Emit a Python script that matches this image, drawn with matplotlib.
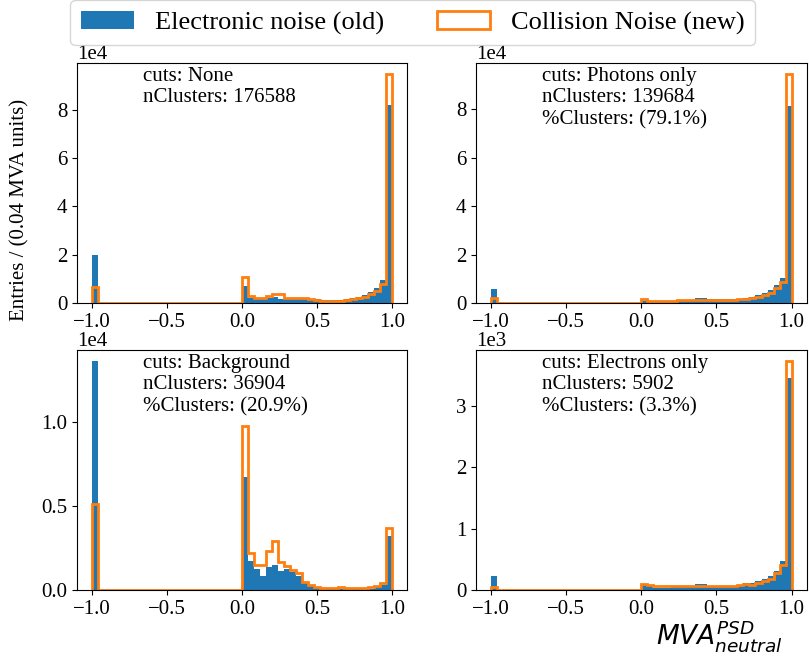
import numpy as np
import matplotlib
matplotlib.use("Agg")
import matplotlib.pyplot as plt
from matplotlib.patches import Patch

BLUE = "#1f77b4"
ORANGE = "#ff7f0e"

plt.rcParams.update(
    {
        "font.family": ["Liberation Serif", "DejaVu Serif"],
        "font.size": 15,
        "mathtext.fontset": "dejavusans",
    }
)

# 50 bins of width 0.04 on [-1, 1]
edges = np.linspace(-1.0, 1.0, 51)
centers = 0.5 * (edges[:-1] + edges[1:])
gap = [0.0] * 24  # bins between -0.96 and 0.0 are empty

# values (entries per bin), bin -1.0 then bins 0.00 ... 0.96
none_old = [19800] + gap + [
    7000, 2100, 1500, 1500, 2100, 2400, 1500, 2000, 2000, 2000, 1900, 1800, 1500,
    1200, 1200, 1100, 1100, 1500, 2000, 2500, 3500, 4600, 6000, 9700, 81800,
]
none_new = [6800] + gap + [
    10600, 2900, 2100, 2100, 2900, 3800, 3800, 2200, 2200, 2200, 2000, 1500, 1100,
    800, 800, 800, 800, 1100, 1500, 2000, 2600, 3800, 5000, 8000, 94600,
]

phot_old = [5900] + gap + [
    1000, 700, 600, 600, 600, 600, 1000, 1000, 1000, 2000, 2000, 1500, 1500,
    1500, 1500, 1500, 1800, 2200, 2600, 3200, 4000, 5400, 7400, 10500, 81500,
]
phot_new = [1900] + gap + [
    1500, 1000, 800, 800, 800, 800, 1200, 1200, 1200, 1400, 1400, 1400, 1400,
    1400, 1400, 1400, 1600, 1700, 2100, 2600, 3200, 4300, 6100, 8500, 94400,
]

bkg_old = [13600] + gap + [
    6750, 1750, 1250, 850, 1350, 1500, 1150, 1250, 1050, 850, 450, 260, 160,
    80, 60, 60, 60, 60, 60, 60, 60, 80, 160, 300, 3200,
]
bkg_new = [5100] + gap + [
    9770, 2180, 1500, 1500, 2300, 2900, 1650, 1450, 1200, 1000, 500, 320, 200,
    120, 100, 120, 150, 100, 120, 120, 120, 160, 260, 400, 3700,
]

ele_old = [230] + gap + [
    80, 60, 30, 30, 30, 70, 70, 70, 70, 90, 90, 70, 70,
    70, 70, 70, 60, 110, 110, 140, 180, 220, 310, 470, 3450,
]
ele_new = [50] + gap + [
    100, 80, 60, 60, 60, 70, 70, 70, 70, 70, 70, 70, 70,
    70, 70, 70, 80, 90, 80, 110, 140, 180, 280, 400, 3720,
]

panels = [
    (none_old, none_new, "cuts: None\nnClusters: 176588"),
    (phot_old, phot_new, "cuts: Photons only\nnClusters: 139684\n%Clusters: (79.1%)"),
    (bkg_old, bkg_new, "cuts: Background\nnClusters: 36904\n%Clusters: (20.9%)"),
    (ele_old, ele_new, "cuts: Electrons only\nnClusters: 5902\n%Clusters: (3.3%)"),
]

fig, axes = plt.subplots(2, 2, figsize=(8.09, 6.56), dpi=100)
fig.subplots_adjust(left=0.095, right=0.997, top=0.904, bottom=0.1006,
                    wspace=0.208, hspace=0.196)

for ax, (old, new, label) in zip(axes.flat, panels):
    ax.hist(centers, bins=edges, weights=old, color=BLUE)
    ax.hist(centers, bins=edges, weights=new, histtype="step", color=ORANGE, lw=2)
    ax.ticklabel_format(axis="y", style="sci", scilimits=(0, 0))
    ax.text(0.2, 0.985, label, transform=ax.transAxes, va="top", ha="left")

fig.text(0.025, 0.68, "Entries / (0.04 MVA units)", rotation=90, va="center", ha="center")
fig.text(0.889, 0.031, r"$MVA_{neutral}^{PSD}$", ha="center", va="center", fontsize=19)

handles = [Patch(facecolor=BLUE), Patch(facecolor="none", edgecolor=ORANGE, lw=2)]
fig.legend(handles, ["Electronic noise (old)", "Collision Noise (new)"],
           loc="upper center", bbox_to_anchor=(0.51, 1.02), ncol=2, fontsize=19)

fig.savefig("out.png", dpi=100)
